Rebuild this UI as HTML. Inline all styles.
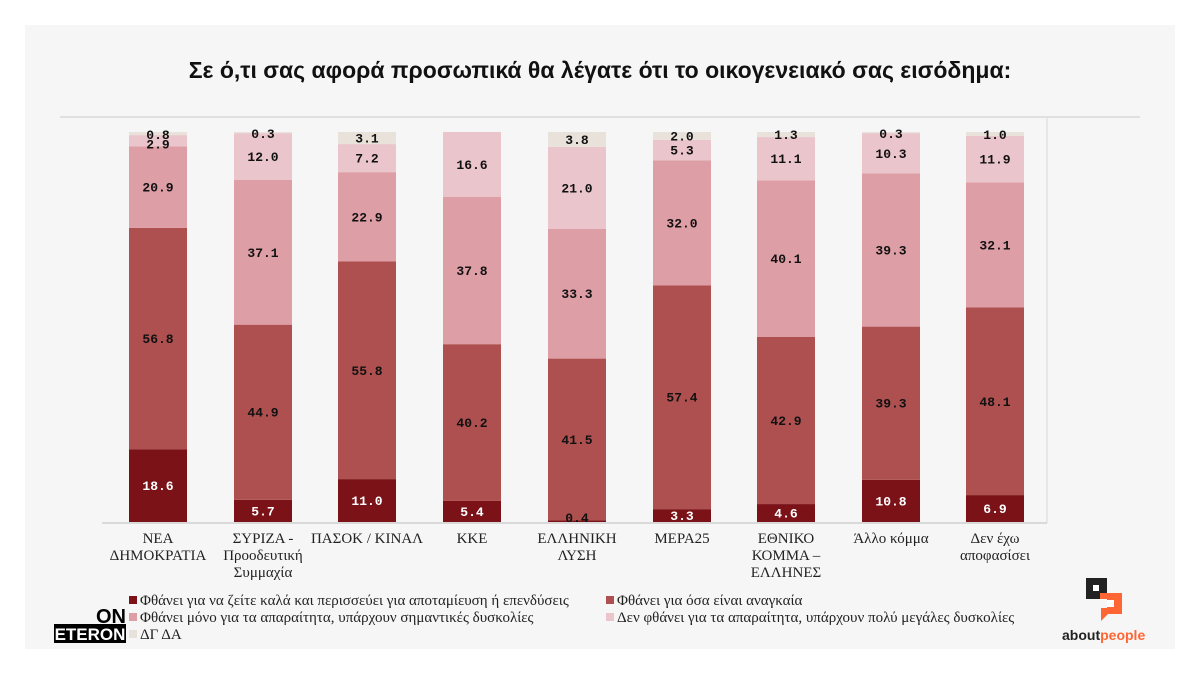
<!DOCTYPE html>
<html><head><meta charset="utf-8"><style>
body{margin:0;background:#fff;}
svg{display:block}
.l{font-family:"Liberation Mono",monospace;font-size:13px;font-weight:bold;text-anchor:middle;fill:#111}
.w{fill:#fff}
</style></head><body>
<svg width="1200" height="675" xmlns="http://www.w3.org/2000/svg">
<rect x="0" y="0" width="1200" height="675" fill="#fff"/>
<rect x="25" y="25" width="1150" height="624" fill="#f6f6f6"/>
<text x="600" y="78" text-anchor="middle" font-family="Liberation Sans, sans-serif" font-size="23" font-weight="bold" fill="#111">Σε ό,τι σας αφορά προσωπικά θα λέγατε ότι το οικογενειακό σας εισόδημα:</text>
<rect x="60" y="116" width="1080" height="2" fill="#e0e0e0"/>
<line x1="1047" y1="118" x2="1047" y2="523" stroke="#d8d8d8" stroke-width="1"/>

<g transform="translate(129,0)">
<rect y="449.46" width="58" height="72.54" fill="#7a1218"/>
<rect y="227.94" width="58" height="221.52" fill="#ae5050"/>
<rect y="146.43" width="58" height="81.51" fill="#de9ea6"/>
<rect y="135.12" width="58" height="11.31" fill="#eac5cb"/>
<rect y="132" width="58" height="3.12" fill="#e8e2da"/>
<text class="l w" x="29" y="490.2">18.6</text><text class="l" x="29" y="343.2">56.8</text><text class="l" x="29" y="191.7">20.9</text><text class="l" x="29" y="148.5">2.9</text><text class="l" x="29" y="139">0.8</text>
</g>
<g transform="translate(234,0)">
<rect y="499.77" width="58" height="22.23" fill="#7a1218"/>
<rect y="324.66" width="58" height="175.11" fill="#ae5050"/>
<rect y="179.97" width="58" height="144.69" fill="#de9ea6"/>
<rect y="133.17" width="58" height="46.8" fill="#eac5cb"/>
<rect y="132" width="58" height="1.17" fill="#e8e2da"/>
<text class="l w" x="29" y="515.4">5.7</text><text class="l" x="29" y="416.7">44.9</text><text class="l" x="29" y="256.8">37.1</text><text class="l" x="29" y="161.1">12.0</text><text class="l" x="29" y="138">0.3</text>
</g>
<g transform="translate(338,0)">
<rect y="479.1" width="58" height="42.9" fill="#7a1218"/>
<rect y="261.48" width="58" height="217.62" fill="#ae5050"/>
<rect y="172.17" width="58" height="89.31" fill="#de9ea6"/>
<rect y="144.09" width="58" height="28.08" fill="#eac5cb"/>
<rect y="132" width="58" height="12.09" fill="#e8e2da"/>
<text class="l w" x="29" y="505.1">11.0</text><text class="l" x="29" y="374.8">55.8</text><text class="l" x="29" y="221.3">22.9</text><text class="l" x="29" y="162.6">7.2</text><text class="l" x="29" y="142.5">3.1</text>
</g>
<g transform="translate(443,0)">
<rect y="500.94" width="58" height="21.06" fill="#7a1218"/>
<rect y="344.16" width="58" height="156.78" fill="#ae5050"/>
<rect y="196.74" width="58" height="147.42" fill="#de9ea6"/>
<rect y="132" width="58" height="64.74" fill="#eac5cb"/>
<text class="l w" x="29" y="516">5.4</text><text class="l" x="29" y="427.1">40.2</text><text class="l" x="29" y="274.9">37.8</text><text class="l" x="29" y="168.9">16.6</text>
</g>
<g transform="translate(548,0)">
<rect y="520.44" width="58" height="1.56" fill="#7a1218"/>
<rect y="358.59" width="58" height="161.85" fill="#ae5050"/>
<rect y="228.72" width="58" height="129.87" fill="#de9ea6"/>
<rect y="146.82" width="58" height="81.9" fill="#eac5cb"/>
<rect y="132" width="58" height="14.82" fill="#e8e2da"/>
<text class="l" x="29" y="522">0.4</text><text class="l" x="29" y="444">41.5</text><text class="l" x="29" y="298.2">33.3</text><text class="l" x="29" y="192.3">21.0</text><text class="l" x="29" y="143.9">3.8</text>
</g>
<g transform="translate(653,0)">
<rect y="509.13" width="58" height="12.87" fill="#7a1218"/>
<rect y="285.27" width="58" height="223.86" fill="#ae5050"/>
<rect y="160.47" width="58" height="124.8" fill="#de9ea6"/>
<rect y="139.8" width="58" height="20.67" fill="#eac5cb"/>
<rect y="132" width="58" height="7.8" fill="#e8e2da"/>
<text class="l w" x="29" y="520">3.3</text><text class="l" x="29" y="401.7">57.4</text><text class="l" x="29" y="227.4">32.0</text><text class="l" x="29" y="154.6">5.3</text><text class="l" x="29" y="140.4">2.0</text>
</g>
<g transform="translate(757,0)">
<rect y="504.06" width="58" height="17.94" fill="#7a1218"/>
<rect y="336.75" width="58" height="167.31" fill="#ae5050"/>
<rect y="180.36" width="58" height="156.39" fill="#de9ea6"/>
<rect y="137.07" width="58" height="43.29" fill="#eac5cb"/>
<rect y="132" width="58" height="5.07" fill="#e8e2da"/>
<text class="l w" x="29" y="517.5">4.6</text><text class="l" x="29" y="424.9">42.9</text><text class="l" x="29" y="263.1">40.1</text><text class="l" x="29" y="163.2">11.1</text><text class="l" x="29" y="139">1.3</text>
</g>
<g transform="translate(862,0)">
<rect y="479.88" width="58" height="42.12" fill="#7a1218"/>
<rect y="326.61" width="58" height="153.27" fill="#ae5050"/>
<rect y="173.34" width="58" height="153.27" fill="#de9ea6"/>
<rect y="133.17" width="58" height="40.17" fill="#eac5cb"/>
<rect y="132" width="58" height="1.17" fill="#e8e2da"/>
<text class="l w" x="29" y="505.4">10.8</text><text class="l" x="29" y="407.7">39.3</text><text class="l" x="29" y="254.5">39.3</text><text class="l" x="29" y="157.8">10.3</text><text class="l" x="29" y="138">0.3</text>
</g>
<g transform="translate(966,0)">
<rect y="495.09" width="58" height="26.91" fill="#7a1218"/>
<rect y="307.5" width="58" height="187.59" fill="#ae5050"/>
<rect y="182.31" width="58" height="125.19" fill="#de9ea6"/>
<rect y="135.9" width="58" height="46.41" fill="#eac5cb"/>
<rect y="132" width="58" height="3.9" fill="#e8e2da"/>
<text class="l w" x="29" y="513">6.9</text><text class="l" x="29" y="405.8">48.1</text><text class="l" x="29" y="249.4">32.1</text><text class="l" x="29" y="163.6">11.9</text><text class="l" x="29" y="139">1.0</text>
</g>

<line x1="102" y1="523" x2="1047" y2="523" stroke="#cfcfcf" stroke-width="1.5"/>

<g font-family="Liberation Serif, serif" font-size="15" fill="#222" text-anchor="middle">
<text x="158" y="543">ΝΕΑ</text><text x="158" y="560">ΔΗΜΟΚΡΑΤΙΑ</text>
<text x="263" y="543">ΣΥΡΙΖΑ -</text><text x="263" y="560">Προοδευτική</text><text x="263" y="577">Συμμαχία</text>
<text x="367" y="543">ΠΑΣΟΚ / ΚΙΝΑΛ</text>
<text x="472" y="543">ΚΚΕ</text>
<text x="577" y="543">ΕΛΛΗΝΙΚΗ</text><text x="577" y="560">ΛΥΣΗ</text>
<text x="682" y="543">ΜΕΡΑ25</text>
<text x="786" y="543">ΕΘΝΙΚΟ</text><text x="786" y="560">ΚΟΜΜΑ –</text><text x="786" y="577">ΕΛΛΗΝΕΣ</text>
<text x="891" y="543">Άλλο κόμμα</text>
<text x="995" y="543">Δεν έχω</text><text x="995" y="560">αποφασίσει</text>
</g>
<g font-family="Liberation Serif, serif" font-size="15" fill="#222">
<rect x="129" y="596" width="8" height="8" fill="#7a1218"/><text x="140" y="605">Φθάνει για να ζείτε καλά και περισσεύει για αποταμίευση ή επενδύσεις</text>
<rect x="129" y="613" width="8" height="8" fill="#de9ea6"/><text x="140" y="622">Φθάνει μόνο για τα απαραίτητα, υπάρχουν σημαντικές δυσκολίες</text>
<rect x="129" y="630" width="8" height="8" fill="#e8e2da"/><text x="140" y="639">ΔΓ ΔΑ</text>
<rect x="606" y="596" width="8" height="8" fill="#ae5050"/><text x="617" y="605">Φθάνει για όσα είναι αναγκαία</text>
<rect x="606" y="613" width="8" height="8" fill="#eac5cb"/><text x="617" y="622">Δεν φθάνει για τα απαραίτητα, υπάρχουν πολύ μεγάλες δυσκολίες</text>
</g>
<g font-family="Liberation Sans, sans-serif" font-weight="bold">
<text x="126" y="623" text-anchor="end" fill="#000" font-size="20">ON</text>
<rect x="54" y="624" width="72" height="19" fill="#000"/>
<text x="90" y="640" text-anchor="middle" fill="#fff" font-size="17">ETERON</text>
</g>
<rect x="1086" y="578" width="21" height="21" fill="#222"/>
<rect x="1093" y="585" width="6" height="6" fill="#fff"/>
<polygon points="1100,593 1122,593 1122,614 1108,614 1101,621 1101,608 1107,608 1107,599 1100,599" fill="#ff6633"/>
<rect x="1107" y="600" width="7" height="7" fill="#fff"/>
<text x="1062" y="640" font-family="Liberation Sans, sans-serif" font-weight="bold" font-size="14" fill="#222">about<tspan fill="#ff6633">people</tspan></text>
</svg>
</body></html>
